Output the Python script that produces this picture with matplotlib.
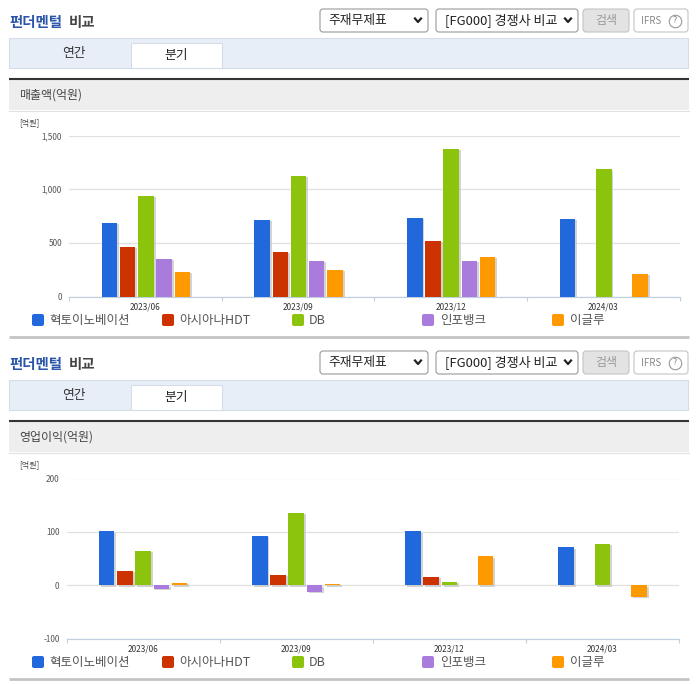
import matplotlib
matplotlib.use('Agg')
import matplotlib.pyplot as plt
import matplotlib.patheffects as pe
from matplotlib.patches import FancyBboxPatch, Rectangle
import numpy as np

plt.rcParams['font.family'] = ['Noto Sans CJK KR', 'DejaVu Sans']

W, H = 696, 684

quarters = ['2023/06', '2023/09', '2023/12', '2024/03']
companies = ['혁토이노베이션', '아시아나HDT', 'DB', '인포뱅크', '이글루']
colors = ['#2168dc', '#cc3300', '#8cc30c', '#a97bdc', '#ff9900']

# 매출액
sales_hecto = [688, 713, 732, 722]
sales_asiana = [461, 415, 517, np.nan]
sales_db = [940, 1123, 1375, 1184]
sales_info = [350, 331, 334, np.nan]
sales_igloo = [228, 247, 368, 210]
sales_ticks = [0, 500, 1000, 1500]

# 영업이익
profit_hecto = [101, 93, 101, 71]
profit_asiana = [27, 19, 16, np.nan]
profit_db = [64, 136, 6, 77]
profit_info = [-7, -12, np.nan, np.nan]
profit_igloo = [5, 3, 54, -22]
profit_ticks = [-100, 0, 100, 200]

legend_x = [32, 162, 292, 422, 552]
legend_text_x = [49, 179, 309, 440, 570]


def rounded(bg, x0, y0, x1, y1, face, edge):
    bg.add_patch(FancyBboxPatch((x0 + 2, y0 + 2), x1 - x0 - 4, y1 - y0 - 4,
                                boxstyle='round,pad=2,rounding_size=3',
                                fc=face, ec=edge, lw=0.8))


def chevron(bg, x, y):
    bg.plot([x - 3, x, x + 3], [y - 2, y + 1.5, y - 2], color='#222222', lw=1.6)


def draw_page(bg, dy, chart_title):
    bg.text(9, 23 + dy, '펀더멘털', color='#2b55a8', fontsize=10.4, weight='bold', va='center')
    bg.text(69, 23 + dy, '비교', color='#444444', fontsize=10.4, weight='bold', va='center')

    rounded(bg, 320, 9 + dy, 428, 32 + dy, 'white', '#9a9a9a')
    bg.text(328, 20.5 + dy, '주재무제표', fontsize=9.2, color='#222222', va='center')
    chevron(bg, 418, 20.5 + dy)
    rounded(bg, 436, 9 + dy, 578, 32 + dy, 'white', '#9a9a9a')
    bg.text(445, 20.5 + dy, '[FG000] 경쟁사 비교', fontsize=9.4, color='#222222', va='center')
    chevron(bg, 568, 20.5 + dy)
    rounded(bg, 583, 9 + dy, 629, 32 + dy, '#e3e3e3', '#c4c4c4')
    bg.text(606, 20.5 + dy, '검색', fontsize=8.6, color='#999999', va='center', ha='center')
    rounded(bg, 634, 9 + dy, 688, 32 + dy, 'white', '#c4c4c4')
    bg.text(641, 20.5 + dy, 'IFRS', fontsize=7, color='#888888', va='center')
    bg.plot([675], [20.5 + dy], 'o', ms=9, mfc='white', mec='#999999', mew=0.8)
    bg.text(675, 20.5 + dy, '?', fontsize=6.5, color='#888888', va='center', ha='center')

    # 탭
    bg.add_patch(Rectangle((9, 38 + dy), 679, 29.5, fc='#e8eef8', ec='#d5dde8', lw=0.8))
    bg.add_patch(Rectangle((131, 43 + dy), 91, 24.5, fc='white', ec='#d5dde8', lw=0.8, zorder=3))
    bg.text(74, 54 + dy, '연간', fontsize=9.2, color='#333333', ha='center', va='center')
    bg.text(176, 55 + dy, '분기', fontsize=9.2, color='#222222', ha='center', va='center', zorder=5)

    # 차트 제목 띠
    bg.add_patch(Rectangle((9, 80 + dy), 680, 30, fc='#eeeeee', ec='none'))
    bg.plot([9, 689], [79 + dy, 79 + dy], color='#333333', lw=1.5, solid_capstyle='butt')
    bg.plot([9, 689], [110.5 + dy, 110.5 + dy], color='#e0e0e0', lw=0.8)
    bg.text(19, 95.5 + dy, chart_title, fontsize=8.6, color='#444444', va='center')
    bg.text(19, 122.5 + dy, '[억원]', fontsize=5.8, color='#444444', va='center')

    # 범례
    for name, c, x, tx in zip(companies, colors, legend_x, legend_text_x):
        bg.add_patch(FancyBboxPatch((x + 1.5, 315.5 + dy), 9, 9,
                                    boxstyle='round,pad=1.5,rounding_size=2', fc=c, ec='none'))
        bg.text(tx, 320.5 + dy, name, fontsize=9, color='#555555', va='center')

    bg.plot([9, 689], [337 + dy, 337 + dy], color='#c4c4c4', lw=2, solid_capstyle='butt')


def draw_chart(fig, box, series, ticks, shift):
    # box is left, top, right, bottom in pixels
    left, top, right, bottom = box
    ax = fig.add_axes([left / W, 1 - bottom / H, (right - left) / W, (bottom - top) / H])
    ax.patch.set_alpha(0)
    x = np.arange(len(quarters))
    step = 18.2 / (right - left) * 4
    width = 15.5 / (right - left) * 4
    shadow = [pe.SimplePatchShadow(offset=(1.4, -1.0), shadow_rgbFace='#c8c8c8', alpha=0.8), pe.Normal()]
    for i, vals in enumerate(series):
        bars = ax.bar(x + (i - 2) * step + shift, vals, width=width, color=colors[i], zorder=3)
        for b in bars:
            b.set_path_effects(shadow)
    ax.set_xlim(-0.5, 3.5)
    ax.set_ylim(ticks[0], ticks[-1])
    ax.set_yticks(ticks)
    ax.set_yticklabels([f'{t:,}' for t in ticks], fontsize=5.9, color='#555555')
    ax.set_xticks(x)
    ax.set_xticklabels(quarters, fontsize=5.9, color='#333333')
    ax.set_xticks(np.arange(-0.5, 4), minor=True)
    ax.tick_params(axis='x', which='major', length=0, pad=4.5)
    ax.tick_params(axis='x', which='minor', length=3, width=0.8, color='#c0d0e0')
    ax.tick_params(axis='y', length=0, pad=5)
    ax.grid(axis='y', color='#e0e0e0', lw=0.9, zorder=1)
    ax.set_axisbelow(True)
    for side in ['top', 'left', 'right']:
        ax.spines[side].set_visible(False)
    ax.spines['bottom'].set_color('#c0d0e0')
    ax.spines['bottom'].set_linewidth(0.9)
    return ax


def main():
    fig = plt.figure(figsize=(W / 100, H / 100), dpi=100)
    bg = fig.add_axes([0, 0, 1, 1])
    bg.set_xlim(0, W)
    bg.set_ylim(H, 0)
    bg.axis('off')

    draw_page(bg, 0, '매출액(억원)')
    draw_page(bg, 342, '영업이익(억원)')

    draw_chart(fig, (69, 135.5, 679.5, 296.5),
               [sales_hecto, sales_asiana, sales_db, sales_info, sales_igloo],
               sales_ticks, 0.004)
    draw_chart(fig, (66.5, 478.5, 679, 638.5),
               [profit_hecto, profit_asiana, profit_db, profit_info, profit_igloo],
               profit_ticks, 0.0)

    fig.savefig('out.png', dpi=100)


if __name__ == '__main__':
    main()
